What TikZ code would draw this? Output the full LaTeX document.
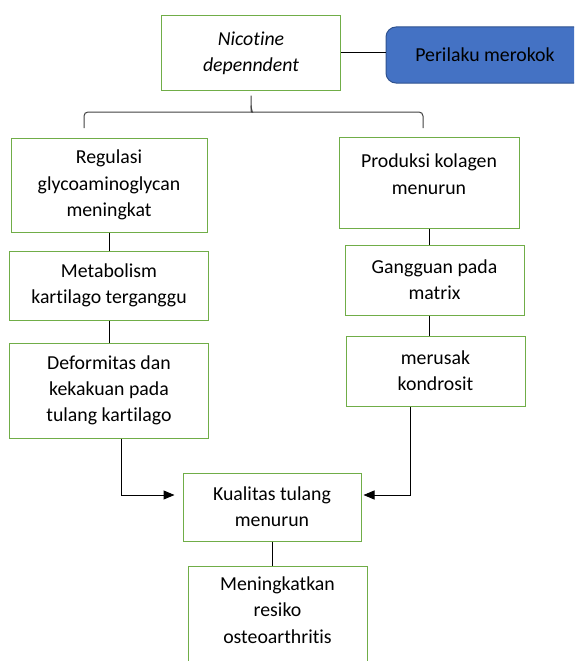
\documentclass[tikz,border=0pt]{standalone}
\usepackage{fontspec}
\setmainfont{Carlito}[Ligatures=NoCommon]
\usepackage{tikz}
\usetikzlibrary{arrows.meta, positioning}
\definecolor{boxgreen}{HTML}{70AD47}
\definecolor{boxblue}{HTML}{4472C4}
\definecolor{blueline}{HTML}{2F528F}
\definecolor{braceline}{HTML}{404040}

\begin{document}
\begin{tikzpicture}[x=1pt, y=-1pt,
    box/.style={draw=boxgreen, line width=1pt, align=center, inner sep=0pt,
        font=\fontsize{19.8}{26.3}\selectfont},
    link/.style={line width=1pt},
    arr/.style={link, -{Triangle[length=11pt, width=9pt]}}]
    \clip (0,0) rectangle (574,661);
    \node[box, minimum width=179pt, minimum height=74pt] (nic) at (251,53) {\textit{Nicotine}\\\textit{depenndent}};
    \node[box, draw=blueline, fill=boxblue, rounded corners=10pt,
        minimum width=198pt, minimum height=56pt] (per) at (485,55) {Perilaku merokok};
    \draw[link] (nic.east) -- (nic.east -| per.west);

    % left branch
    \node[box, minimum width=196pt, minimum height=94pt] (reg) at (109,185) {Regulasi\\glycoaminoglycan\\meningkat};
    \node[box, minimum width=199pt, minimum height=69pt, below=18pt of reg] (met) {Metabolism\\kartilago terganggu};
    \node[box, minimum width=199pt, minimum height=95pt, below=22pt of met] (def) {Deformitas dan\\kekakuan pada\\tulang kartilago};

    % right branch
    \node[box, minimum width=180pt, minimum height=91pt, text depth=17pt] (pro) at (429,182.5) {Produksi kolagen\\menurun};
    \node[box, minimum width=179pt, minimum height=70pt, below=16pt of pro, xshift=5.5pt] (gan) {Gangguan pada\\matrix};
    \node[box, minimum width=179pt, minimum height=70pt, below=20pt of gan, xshift=1pt] (mer) {merusak\\kondrosit};

    % bottom
    \node[box, minimum width=178pt, minimum height=68pt] (kua) at (272,507) {Kualitas tulang\\menurun};
    \node[box, minimum width=179pt, minimum height=103pt, text depth=15pt, below=24pt of kua, xshift=5.5pt] (men) {Meningkatkan\\resiko\\osteoarthritis};

    % brace under nicotine box
    \coordinate (bl) at (84,128);
    \coordinate (br) at (423,128);
    \draw[link, braceline] (bl) [rounded corners=4pt] |- (248,112) [sharp corners] to[out=0, in=-90] ([yshift=-15pt]nic.south) -- ([yshift=-5pt]nic.south);
    \draw[link, braceline] (br) [rounded corners=4pt] |- (256,112) [sharp corners] to[out=180, in=-90] ([yshift=-15pt]nic.south);

    \draw[link] (reg.south) -- (reg.south |- met.north);
    \draw[link] (reg.south |- met.south) -- (reg.south |- def.north);
    \draw[link] (pro.south) -- (pro.south |- gan.north);
    \draw[link] (pro.south |- gan.south) -- (pro.south |- mer.north);
    \draw[arr] ([xshift=12.5pt]def.south) |- ([xshift=-8pt, yshift=12pt]kua.west);
    \draw[arr] ([xshift=-25.5pt]mer.south) |- ([xshift=2pt, yshift=12pt]kua.east);
    \draw[link] (kua.south) -- (kua.south |- men.north);
\end{tikzpicture}
\end{document}
